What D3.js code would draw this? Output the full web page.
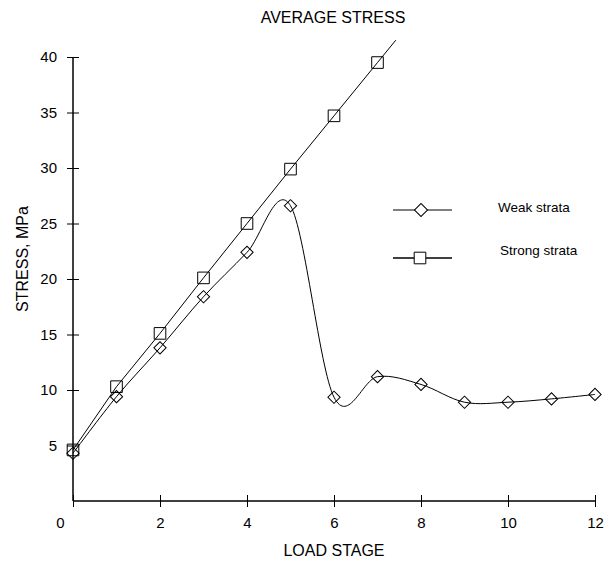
<!DOCTYPE html>
<html>
<head>
<meta charset="utf-8">
<script src="https://cdn.jsdelivr.net/npm/d3@7"></script>
<style>
  body { margin: 0; background: #fff; }
  svg { font-family: "Liberation Sans", Arial, sans-serif; }
</style>
</head>
<body>
<svg id="chart" width="608" height="563"></svg>
<script>
// Data
const stages = [0, 1, 2, 3, 4, 5, 6, 7, 8, 9, 10, 11, 12];
const weakStrata = [4.3, 9.4, 13.8, 18.4, 22.4, 26.6, 9.35, 11.2, 10.5, 8.9, 8.9, 9.2, 9.6];
const strongStrata = [4.6, 10.3, 15.1, 20.1, 25.0, 29.9, 34.7, 39.5];
const xTicks = [0, 2, 4, 6, 8, 10, 12];
const yTicks = [5, 10, 15, 20, 25, 30, 35, 40];
const seriesNames = ["Weak strata", "Strong strata"];

const svg = d3.select("#chart");

// Scales
const x = d3.scaleLinear().domain([0, 12]).range([73, 595]);
const y = d3.scaleLinear().domain([0, 40]).range([501, 57]);

// Title
svg.append("text")
    .attr("x", 333)
    .attr("y", 23)
    .attr("text-anchor", "middle")
    .style("font-size", "16px")
    .text("AVERAGE STRESS");

// X axis
const xAxis = svg.append("g")
    .attr("transform", `translate(0,${y(0)})`)
    .call(d3.axisBottom(x).tickValues(xTicks).tickSize(6).tickPadding(10).tickFormat(d3.format("d")));
xAxis.select(".domain").attr("stroke-width", 1.5).attr("d", `M${x(0)},0H${x(12)}`);
xAxis.selectAll(".tick line").attr("y1", -6).attr("y2", 6);
xAxis.selectAll(".tick text")
    .style("font-size", "15px")
    .attr("dx", d => d === 0 ? -13 : 0);

// Y axis
const yAxis = svg.append("g")
    .attr("transform", `translate(${x(0)},0)`)
    .call(d3.axisLeft(y).tickValues(yTicks).tickSize(6).tickPadding(10));
yAxis.select(".domain").attr("stroke-width", 1.5).attr("d", `M0,${y(0)}V${y(40)}`);
yAxis.selectAll(".tick line").attr("x1", -6).attr("x2", 6);
yAxis.selectAll(".tick text").style("font-size", "15px");

// Axis labels
svg.append("text")
    .attr("x", 334)
    .attr("y", 556)
    .attr("text-anchor", "middle")
    .style("font-size", "16px")
    .text("LOAD STAGE");

svg.append("text")
    .attr("transform", "translate(28,259) rotate(-90)")
    .attr("text-anchor", "middle")
    .style("font-size", "16px")
    .text("STRESS, MPa");

// Weak strata: smoothed curve
const weakData = weakStrata.map((v, i) => ({x: stages[i], y: v}));
svg.append("path")
    .datum(weakData)
    .attr("fill", "none")
    .attr("stroke", "#000")
    .attr("stroke-width", 1)
    .attr("d", d3.line().x(d => x(d.x)).y(d => y(d.y)).curve(d3.curveCardinal.tension(0)));

// Strong strata: straight segments, last one carried on past the final point
const strongData = strongStrata.map((v, i) => ({x: stages[i], y: v}));
const n = strongData.length;
const slope = strongData[n - 1].y - strongData[n - 2].y;
const ext = {x: strongData[n - 1].x + 0.42, y: strongData[n - 1].y + slope * 0.42};
svg.append("path")
    .datum(strongData.concat([ext]))
    .attr("fill", "none")
    .attr("stroke", "#000")
    .attr("stroke-width", 1)
    .attr("d", d3.line().x(d => x(d.x)).y(d => y(d.y)));

// Markers
const diamond = d3.symbol().type(d3.symbolSquare).size(75);
const square = d3.symbol().type(d3.symbolSquare).size(135);

svg.selectAll(".weak")
    .data(weakData)
    .enter()
    .append("path")
    .attr("class", "weak")
    .attr("transform", d => `translate(${x(d.x)},${y(d.y)}) rotate(45)`)
    .attr("d", diamond)
    .attr("fill", "none")
    .attr("stroke", "#000")
    .attr("stroke-width", 1);

svg.selectAll(".strong")
    .data(strongData)
    .enter()
    .append("path")
    .attr("class", "strong")
    .attr("transform", d => `translate(${x(d.x)},${y(d.y)})`)
    .attr("d", square)
    .attr("fill", "none")
    .attr("stroke", "#000")
    .attr("stroke-width", 1);

// Legend
const legend = svg.append("g");
seriesNames.forEach((name, i) => {
    const ly = 210 + i * 48;
    legend.append("line")
        .attr("x1", 393).attr("x2", 452)
        .attr("y1", ly).attr("y2", ly)
        .attr("stroke", "#000")
        .attr("stroke-width", i === 0 ? 1 : 1.3);
    legend.append("path")
        .attr("transform", i === 0 ? `translate(421,${ly}) rotate(45)` : `translate(420,${ly})`)
        .attr("d", i === 0 ? d3.symbol().type(d3.symbolSquare).size(85) : square)
        .attr("fill", "#fff")
        .attr("stroke", "#000")
        .attr("stroke-width", 1);
    legend.append("text")
        .attr("x", i === 0 ? 498 : 500)
        .attr("y", i === 0 ? 212 : 255)
        .style("font-size", "13.5px")
        .text(name);
});
</script>
</body>
</html>
